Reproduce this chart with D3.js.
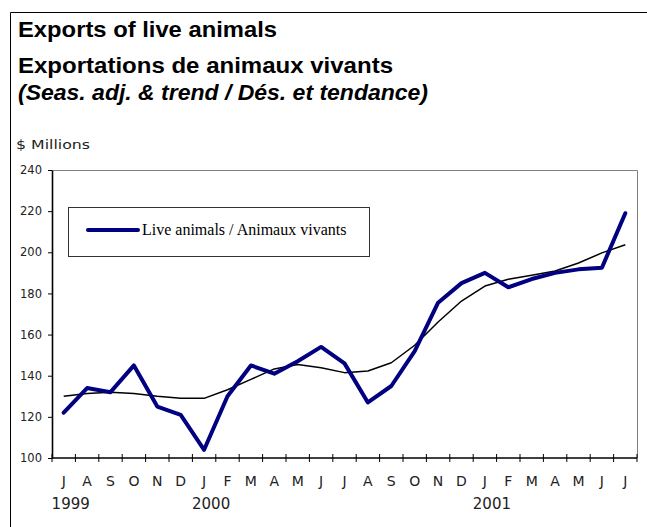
<!DOCTYPE html>
<html>
<head>
<meta charset="utf-8">
<script src="https://cdn.jsdelivr.net/npm/d3@7"></script>
<style>
  html, body { margin: 0; padding: 0; background: #fff; }
  svg { display: block; }
</style>
</head>
<body>
<div id="chart"></div>
<script>
// Monthly categories, Jul 1999 .. Jul 2001
const months = ["J","A","S","O","N","D","J","F","M","A","M","J","J","A","S","O","N","D","J","F","M","A","M","J","J"];
const years = [
    { label: "1999", index: 0 },
    { label: "2000", index: 6 },
    { label: "2001", index: 18 }
];
// Seasonally adjusted series ($ millions)
const seasAdj = [122, 134, 132, 145, 125, 121, 104, 130, 145, 141, 147, 154, 146, 127, 135, 152, 175.5, 185, 190, 183, 187, 190, 191.7, 192.5, 219];
// Trend series ($ millions)
const trend = [130, 131.4, 132, 131.3, 130, 129, 129, 133.2, 138.2, 143.3, 145.4, 143.9, 141.5, 142.3, 146.3, 154.8, 166.1, 176.3, 183.6, 186.9, 188.8, 190.9, 194.8, 199.7, 203.7];
const yTicks = [100, 120, 140, 160, 180, 200, 220, 240];

const titles = [
    { text: "Exports of live animals", y: 36.5, len: 259, italic: false },
    { text: "Exportations de animaux vivants", y: 72.5, len: 375, italic: false },
    { text: "(Seas. adj. & trend / Dés. et tendance)", y: 100, len: 410, italic: true }
];

const width = 647;
const height = 527;
const marginLeft = 52;
const marginRight = 10;
const marginTop = 170;
const marginBottom = 69;

const svg = d3.select("#chart").append("svg")
    .attr("width", width)
    .attr("height", height)
    .attr("viewBox", [0, 0, width, height]);

// outer frame (only top and left show within the picture)
svg.append("path")
    .attr("d", `M10.5,${height} V12.5 H${width}`)
    .attr("fill", "none")
    .attr("stroke", "#000")
    .attr("stroke-width", 1);

// titles
svg.append("g")
    .selectAll("text")
    .data(titles)
    .join("text")
    .attr("x", 18)
    .attr("y", d => d.y)
    .attr("font-family", "'Liberation Sans', Arial, sans-serif")
    .attr("font-size", 21.5)
    .attr("font-weight", "bold")
    .attr("font-style", d => d.italic ? "italic" : "normal")
    .attr("textLength", d => d.len)
    .attr("lengthAdjust", "spacingAndGlyphs")
    .text(d => d.text);

svg.append("text")
    .attr("x", 16)
    .attr("y", 148.5)
    .attr("font-family", "'DejaVu Sans', sans-serif")
    .attr("font-size", 12.5)
    .attr("fill", "#222")
    .attr("textLength", 74)
    .attr("lengthAdjust", "spacingAndGlyphs")
    .text("$ Millions");

// scales
const x = d3.scaleBand()
    .domain(d3.range(months.length))
    .range([marginLeft, width - marginRight]);

const y = d3.scaleLinear()
    .domain([100, 240])
    .range([height - marginBottom, marginTop]);

const cx = i => x(i) + x.bandwidth() / 2;

// plot frame: top and right in grey
svg.append("path")
    .attr("d", `M${marginLeft},${marginTop + 0.5} H${width - marginRight + 0.5} V${height - marginBottom}`)
    .attr("fill", "none")
    .attr("stroke", "#808080")
    .attr("stroke-width", 1);

// y axis
svg.append("g")
    .attr("transform", `translate(${marginLeft},0)`)
    .call(d3.axisLeft(y).tickValues(yTicks).tickSize(4).tickPadding(6).tickSizeOuter(0))
    .call(g => g.select(".domain").attr("stroke", "#000").attr("stroke-width", 1.6))
    .call(g => g.selectAll(".tick line").attr("stroke", "#000"))
    .call(g => g.selectAll(".tick text")
        .attr("font-family", "'DejaVu Sans', sans-serif")
        .attr("font-size", 11.5)
        .attr("fill", "#222"));

// x axis: ticks at band boundaries, crossing the axis line
const xAxis = svg.append("g");
xAxis.append("line")
    .attr("x1", marginLeft)
    .attr("x2", width - marginRight)
    .attr("y1", y(100))
    .attr("y2", y(100))
    .attr("stroke", "#000")
    .attr("stroke-width", 1.6);

xAxis.selectAll("line.tick")
    .data(d3.range(months.length + 1))
    .join("line")
    .attr("class", "tick")
    .attr("x1", i => i < months.length ? x(i) : x(i - 1) + x.bandwidth())
    .attr("x2", i => i < months.length ? x(i) : x(i - 1) + x.bandwidth())
    .attr("y1", y(100) - 4)
    .attr("y2", y(100) + 4)
    .attr("stroke", "#000")
    .attr("stroke-width", 1);

xAxis.selectAll("text.month")
    .data(months)
    .join("text")
    .attr("class", "month")
    .attr("x", (d, i) => cx(i))
    .attr("y", 485.5)
    .attr("text-anchor", "middle")
    .attr("font-family", "'DejaVu Sans', sans-serif")
    .attr("font-size", 14)
    .attr("fill", "#222")
    .text(d => d);

xAxis.selectAll("text.year")
    .data(years)
    .join("text")
    .attr("class", "year")
    .attr("x", d => cx(d.index) + 7)
    .attr("y", 509)
    .attr("text-anchor", "middle")
    .attr("font-family", "'DejaVu Sans', sans-serif")
    .attr("font-size", 15)
    .attr("fill", "#222")
    .text(d => d.label);

// lines
const line = d3.line()
    .x((d, i) => cx(i))
    .y(d => y(d));

svg.append("path")
    .datum(trend)
    .attr("fill", "none")
    .attr("stroke", "#000")
    .attr("stroke-width", 1.5)
    .attr("stroke-linejoin", "round")
    .attr("d", line);

svg.append("path")
    .datum(seasAdj)
    .attr("fill", "none")
    .attr("stroke", "#000080")
    .attr("stroke-width", 4)
    .attr("stroke-linejoin", "round")
    .attr("stroke-linecap", "round")
    .attr("d", line);

// legend
const legend = svg.append("g");
legend.append("rect")
    .attr("x", 68.5)
    .attr("y", 207.5)
    .attr("width", 301)
    .attr("height", 49)
    .attr("fill", "#fff")
    .attr("stroke", "#333")
    .attr("stroke-width", 1);
legend.append("line")
    .attr("x1", 88)
    .attr("x2", 138)
    .attr("y1", 230)
    .attr("y2", 230)
    .attr("stroke", "#000080")
    .attr("stroke-width", 4)
    .attr("stroke-linecap", "round");
legend.append("text")
    .attr("x", 142)
    .attr("y", 235)
    .attr("font-family", "'Liberation Serif', 'Times New Roman', serif")
    .attr("font-size", 16)
    .attr("fill", "#000")
    .text("Live animals / Animaux vivants");
</script>
</body>
</html>
